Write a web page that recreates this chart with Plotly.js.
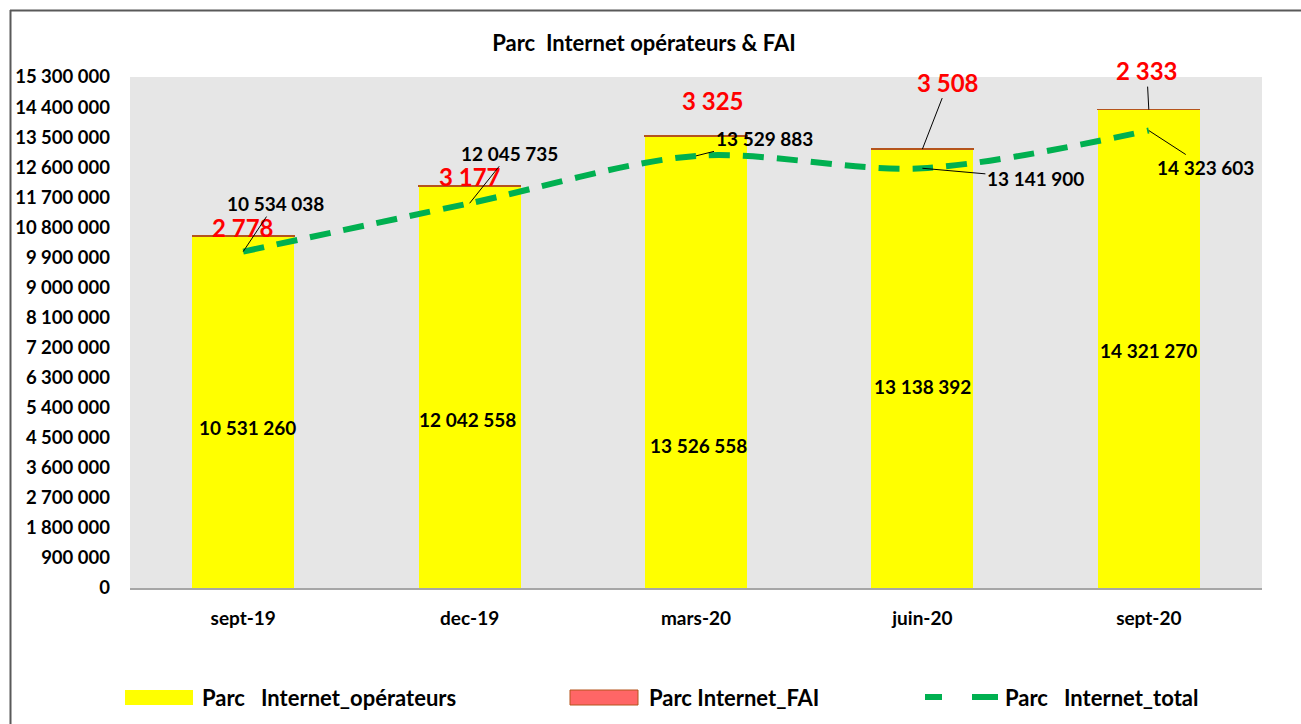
<!DOCTYPE html>
<html lang="fr">
<head>
  <meta charset="UTF-8">
  <title>Parc Internet opérateurs & FAI</title>
  <script src="https://cdn.plot.ly/plotly-3.0.1.min.js"></script>
  <style>
    body { margin: 0; background: #ffffff; }
    #chart { width: 1301px; height: 724px; }
  </style>
</head>
<body>
  <div id="chart"></div>
  <script>
    // data
    const periods = ["sept-19", "dec-19", "mars-20", "juin-20", "sept-20"];
    const parcOperateurs = [10531260, 12042558, 13526558, 13138392, 14321270];
    const parcFAI = [2778, 3177, 3325, 3508, 2333];
    const parcTotal = [10534038, 12045735, 13529883, 13141900, 14323603];
    const seriesNames = ["Parc   Internet_opérateurs", "Parc Internet_FAI", "Parc   Internet_total"];

    const W = 1301, H = 724;
    const L = 130, R = 1262, T = 77, B = 588;
    const FONT = "Lato, 'Open Sans', sans-serif";

    // pixel -> paper helpers (layout only)
    const px = v => (v - L) / (R - L);
    const py = v => (B - v) / (B - T);

    const fmt = v => String(v).replace(/\B(?=(\d{3})+(?!\d))/g, " ");
    const bold = s => "<b>" + s + "</b>";

    const traces = [
      {
        type: "bar", name: seriesNames[0], x: periods, y: parcOperateurs,
        marker: { color: "#ffff00", line: { width: 0 } },
        showlegend: false, hoverinfo: "skip"
      },
      {
        type: "bar", name: seriesNames[1], x: periods, y: parcFAI,
        marker: { color: "#ff6666", line: { color: "#b5541c", width: 1.5 } },
        showlegend: false, hoverinfo: "skip"
      },
      {
        type: "scatter", mode: "lines", name: seriesNames[2], x: periods, y: parcTotal,
        yaxis: "y2",
        line: { color: "#00b050", width: 6, dash: "21px,13px", shape: "spline", smoothing: 0.9 },
        showlegend: false, hoverinfo: "skip"
      }
    ];

    const annotations = [];

    // operator values inside the bars
    const opShift = [[4, -15], [-2, -33], [2, -83], [0, -18], [0, -2]];
    periods.forEach((p, i) => {
      annotations.push({
        x: p, y: parcOperateurs[i] / 2, xref: "x", yref: "y",
        text: bold(fmt(parcOperateurs[i])), showarrow: false,
        xshift: opShift[i][0], yshift: opShift[i][1],
        font: { family: FONT, size: 19, color: "#000000", weight: 700 }
      });
    });

    // FAI values (red) above the bar tops
    const faiOff = [[0, -9, false], [0, -9, false], [17, -36, false], [26, -67, true], [-2, -39, true]];
    periods.forEach((p, i) => {
      const o = faiOff[i];
      const a = {
        x: p, y: parcTotal[i], xref: "x", yref: "y",
        text: bold(fmt(parcFAI[i])),
        font: { family: FONT, size: 24, color: "#ff0000", weight: 900 }
      };
      if (o[2]) {
        Object.assign(a, { showarrow: true, arrowhead: 0, arrowwidth: 1, arrowcolor: "#000000", ax: o[0], ay: o[1], standoff: 0 });
      } else {
        Object.assign(a, { showarrow: false, xshift: o[0], yshift: -o[1] });
      }
      annotations.push(a);
    });

    // total values with leader lines to the dashed line
    const totOff = [[32, -48], [40, -50], [68, -17], [113, 10], [57, 37]];
    periods.forEach((p, i) => {
      annotations.push({
        x: p, y: parcTotal[i], xref: "x", yref: "y2",
        text: bold(fmt(parcTotal[i])), showarrow: true, arrowhead: 0, arrowwidth: 1,
        arrowcolor: "#000000", ax: totOff[i][0], ay: totOff[i][1],
        font: { family: FONT, size: 19, color: "#000000", weight: 700 }
      });
    });

    // legend (drawn by hand to get the wide Excel-style keys)
    const legY = 697;
    const legText = [200, 647, 1003];
    seriesNames.forEach((n, i) => {
      annotations.push({
        x: px(legText[i]), y: py(legY), xref: "paper", yref: "paper",
        xanchor: "left", yanchor: "middle", showarrow: false, text: bold(n),
        font: { family: FONT, size: 22, color: "#000000", weight: 700 }
      });
    });

    const shapes = [
      // outer frame
      { type: "line", xref: "paper", yref: "paper", x0: px(10), x1: px(W + 5), y0: py(10.5), y1: py(10.5), line: { color: "#595959", width: 2 } },
      { type: "line", xref: "paper", yref: "paper", x0: px(10.5), x1: px(10.5), y0: py(10), y1: py(H + 5), line: { color: "#595959", width: 2 } },
      // legend keys
      { type: "rect", xref: "paper", yref: "paper", x0: px(125), x1: px(193), y0: py(690), y1: py(705), fillcolor: "#ffff00", line: { width: 0 } },
      { type: "rect", xref: "paper", yref: "paper", x0: px(570), x1: px(638), y0: py(690), y1: py(705), fillcolor: "#ff6666", line: { color: "#b5541c", width: 1 } },
      { type: "line", xref: "paper", yref: "paper", x0: px(925), x1: px(942), y0: py(legY), y1: py(legY), line: { color: "#00b050", width: 6 } },
      { type: "line", xref: "paper", yref: "paper", x0: px(972), x1: px(998), y0: py(legY), y1: py(legY), line: { color: "#00b050", width: 6 } }
    ];

    const layout = {
      width: W, height: H,
      margin: { l: L, r: W - R, t: T, b: H - B, pad: 0 },
      paper_bgcolor: "#ffffff",
      plot_bgcolor: "#e6e6e6",
      separators: ", ",
      barmode: "stack",
      bargap: 0.55,
      showlegend: false,
      title: {
        text: bold("Parc  Internet opérateurs & FAI"),
        x: 644 / W, xanchor: "center", y: 1 - 43 / H, yanchor: "middle",
        font: { family: FONT, size: 22, color: "#000000", weight: 700 }
      },
      xaxis: {
        type: "category",
        showgrid: false, zeroline: false,
        showline: true, linecolor: "#a6a6a6", linewidth: 1.5,
        ticks: "", ticklabelstandoff: 13,
        tickfont: { family: FONT, size: 19, color: "#000000", weight: 700 }
      },
      yaxis: {
        range: [0, 15300000], dtick: 900000, tick0: 0,
        tickformat: ",d",
        showgrid: false, zeroline: false, showline: false,
        ticks: "", ticklabelstandoff: 19,
        tickfont: { family: FONT, size: 18.5, color: "#000000", weight: 700 }
      },
      yaxis2: {
        overlaying: "y", side: "right", range: [0, 16000000],
        visible: false, showgrid: false, zeroline: false
      },
      annotations: annotations,
      shapes: shapes
    };

    Plotly.newPlot("chart", traces, layout, { displayModeBar: false, staticPlot: true });
  </script>
</body>
</html>
